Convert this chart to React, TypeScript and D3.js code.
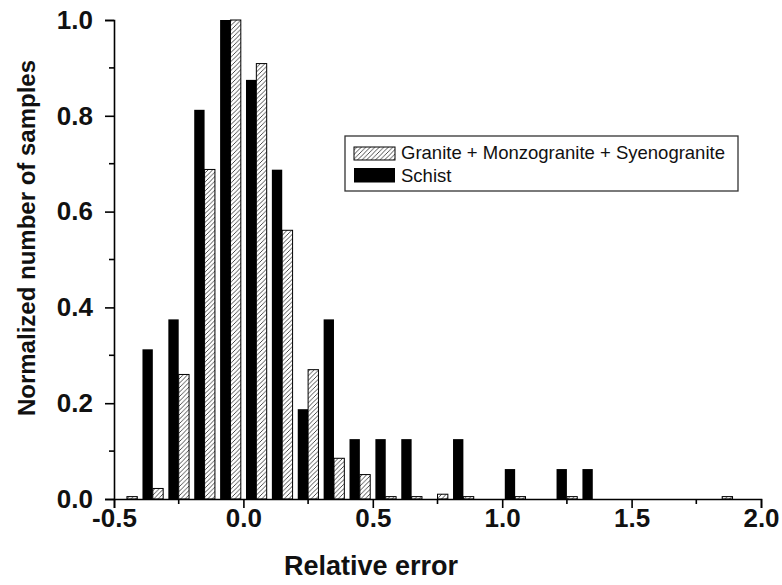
import { useEffect, useRef } from 'react'
import * as d3 from 'd3'

// bin centres of the relative error histogram (bin width 0.1)
const binCenters = [
  -0.45, -0.35, -0.25, -0.15, -0.05, 0.05, 0.15, 0.25, 0.35, 0.45, 0.55, 0.65,
  0.75, 0.85, 0.95, 1.05, 1.15, 1.25, 1.35, 1.45, 1.55, 1.65, 1.75, 1.85
]
const schistValues = [
  0, 0.3125, 0.375, 0.8125, 1.0, 0.875, 0.6875, 0.1875, 0.375, 0.125, 0.125, 0.125,
  0, 0.125, 0, 0.0625, 0, 0.0625, 0.0625, 0, 0, 0, 0, 0
]
const graniteValues = [
  0.005, 0.022, 0.26, 0.688, 1.0, 0.909, 0.561, 0.27, 0.085, 0.051, 0.005, 0.005,
  0.01, 0.005, 0, 0.005, 0, 0.005, 0, 0, 0, 0, 0, 0.005
]
const xTicks = [-0.5, 0, 0.5, 1.0, 1.5, 2.0]
const yTicks = [0, 0.2, 0.4, 0.6, 0.8, 1.0]
const legendLabels = ['Granite + Monzogranite + Syenogranite', 'Schist']

const WIDTH = 782
const HEIGHT = 585
const FONT = '"Liberation Sans", Arial, Helvetica, sans-serif'

// plain hyphen for negatives, like the original plot
const fmt = (v: number) => v.toFixed(1)

const App = () => {
  const svgRef = useRef<SVGSVGElement>(null)

  useEffect(() => {
    if (!svgRef.current) return
    const svg = d3.select(svgRef.current)
    svg.selectAll('*').remove()

    const x = d3.scaleLinear().domain([-0.5, 2.0]).range([114, 761])
    const y = d3.scaleLinear().domain([0, 1]).range([499, 20])
    const barW = x(0.04) - x(0)

    // hatch pattern
    const defs = svg.append('defs')
    const pat = defs
      .append('pattern')
      .attr('id', 'hatch')
      .attr('patternUnits', 'userSpaceOnUse')
      .attr('width', 4.5)
      .attr('height', 4.5)
    pat.append('rect').attr('width', 4.5).attr('height', 4.5).attr('fill', '#fff')
    pat
      .append('path')
      .attr('d', 'M-1,1 l2,-2 M0,4.5 l4.5,-4.5 M3.5,5.5 l2,-2')
      .attr('stroke', '#222')
      .attr('stroke-width', 0.8)

    const bins = binCenters.map((c, i) => ({ c, schist: schistValues[i], granite: graniteValues[i] }))

    // Schist bars (left of centre)
    svg
      .append('g')
      .selectAll('rect')
      .data(bins.filter(d => d.schist > 0))
      .enter()
      .append('rect')
      .attr('x', d => x(d.c) - barW)
      .attr('y', d => y(d.schist))
      .attr('width', barW)
      .attr('height', d => y(0) - y(d.schist))
      .attr('fill', '#000')

    // Granite bars (right of centre)
    svg
      .append('g')
      .selectAll('rect')
      .data(bins.filter(d => d.granite > 0))
      .enter()
      .append('rect')
      .attr('x', d => x(d.c))
      .attr('y', d => y(d.granite))
      .attr('width', barW)
      .attr('height', d => y(0) - y(d.granite))
      .attr('fill', 'url(#hatch)')
      .attr('stroke', '#000')
      .attr('stroke-width', 1)

    // X axis
    const xMinor = [-0.25, 0.25, 0.75, 1.25, 1.75]
    const xAxisG = svg.append('g').attr('transform', `translate(0,${y(0)})`)
    xAxisG.call(
      d3
        .axisBottom(x)
        .tickValues(xTicks)
        .tickSize(9)
        .tickPadding(1)
        .tickFormat(d => fmt(d as number))
    )
    xAxisG
      .selectAll('.minor')
      .data(xMinor)
      .enter()
      .append('line')
      .attr('x1', d => x(d))
      .attr('x2', d => x(d))
      .attr('y1', 0)
      .attr('y2', 5)
      .attr('stroke', '#000')
      .attr('stroke-width', 1.6)

    // Y axis
    const yMinor = [0.1, 0.3, 0.5, 0.7, 0.9]
    const yAxisG = svg.append('g').attr('transform', `translate(${x(-0.5)},0)`)
    yAxisG.call(
      d3
        .axisLeft(y)
        .tickValues(yTicks)
        .tickSize(9)
        .tickPadding(12)
        .tickFormat(d => fmt(d as number))
    )
    yAxisG
      .selectAll('.minor')
      .data(yMinor)
      .enter()
      .append('line')
      .attr('x1', -5)
      .attr('x2', 0)
      .attr('y1', d => y(d))
      .attr('y2', d => y(d))
      .attr('stroke', '#000')
      .attr('stroke-width', 1.6)

    svg.selectAll('.domain').attr('stroke', '#000').attr('stroke-width', 1.6)
    svg.selectAll('.tick line').attr('stroke', '#000').attr('stroke-width', 1.6)
    svg
      .selectAll('.tick text')
      .attr('fill', '#111')
      .style('font-family', FONT)
      .style('font-weight', 'bold')
      .style('font-size', '26px')

    // Axis titles
    svg
      .append('text')
      .attr('x', 371)
      .attr('y', 575)
      .attr('text-anchor', 'middle')
      .style('font-family', FONT)
      .style('font-weight', 'bold')
      .style('font-size', '27px')
      .attr('fill', '#111')
      .text('Relative error')

    svg
      .append('text')
      .attr('transform', 'translate(35,238) rotate(-90)')
      .attr('text-anchor', 'middle')
      .style('font-family', FONT)
      .style('font-weight', 'bold')
      .style('font-size', '24px')
      .attr('fill', '#111')
      .text('Normalized number of samples')

    // Legend
    const legend = svg.append('g')
    legend
      .append('rect')
      .attr('x', 345)
      .attr('y', 136)
      .attr('width', 393)
      .attr('height', 55)
      .attr('fill', '#fff')
      .attr('stroke', '#333')
      .attr('stroke-width', 1.3)
    legend
      .append('rect')
      .attr('x', 354)
      .attr('y', 147)
      .attr('width', 41)
      .attr('height', 13)
      .attr('fill', 'url(#hatch)')
      .attr('stroke', '#000')
      .attr('stroke-width', 1)
    legend
      .append('rect')
      .attr('x', 354)
      .attr('y', 168)
      .attr('width', 41)
      .attr('height', 14.5)
      .attr('fill', '#000')
    legend
      .selectAll('text.lbl')
      .data(legendLabels)
      .enter()
      .append('text')
      .attr('class', 'lbl')
      .attr('x', 401)
      .attr('y', (_d, i) => 159 + i * 22.5)
      .style('font-family', FONT)
      .style('font-size', '18.5px')
      .attr('fill', '#111')
      .text(d => d)
  }, [])

  return (
    <svg
      ref={svgRef}
      width={WIDTH}
      height={HEIGHT}
      style={{ position: 'absolute', left: 0, top: 0, background: '#fff' }}
    />
  )
}

export default App
